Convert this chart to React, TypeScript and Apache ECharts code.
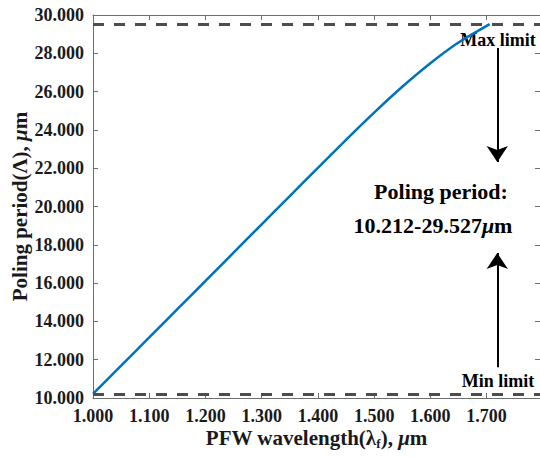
import React, { useEffect, useRef } from "react";
import * as echarts from "echarts";

// PFW wavelength (µm)
const wavelength = [1.0, 1.05, 1.1, 1.15, 1.2, 1.25, 1.3, 1.35, 1.4, 1.45, 1.5, 1.55, 1.6, 1.65, 1.7, 1.7055];
// Poling period (µm)
const period = [10.212, 11.69, 13.16, 14.64, 16.11, 17.59, 19.07, 20.54, 22.02, 23.48, 24.9, 26.25, 27.48, 28.56, 29.43, 29.527];

const minLimit = 10.212;
const maxLimit = 29.527;

const xMin = 1.0;
const xMax = 1.795;
const xInterval = 0.1;
const yMin = 10;
const yMax = 30;
const yInterval = 2;

// annotation arrows (data coordinates)
const arrowX = 1.719;
const downArrow = [28.28, 22.32];
const upArrow = [11.6, 17.57];

const FONT = "'Liberation Serif', 'Times New Roman', serif";

export default function App() {
  const ref = useRef<HTMLDivElement>(null);

  useEffect(() => {
    if (!ref.current) return;
    const chart = echarts.init(ref.current, null, { renderer: "svg" });
    const axisColor = "#6e6e6e";
    const labelStyle = {
      fontFamily: FONT,
      fontWeight: "bold" as const,
      fontSize: 18,
      color: "#1a1a1a",
    };
    const titleRich = {
      sub: { fontFamily: FONT, fontWeight: "bold", fontSize: 13, color: "#1a1a1a", lineHeight: 10, verticalAlign: "bottom" },
      it: { fontFamily: FONT, fontWeight: "bold", fontStyle: "italic", fontSize: 21, color: "#1a1a1a", lineHeight: 24 },
    };
    const data = wavelength.map((w, i) => [w, period[i]]);

    chart.setOption({
      animation: false,
      backgroundColor: "#fff",
      grid: { left: 93, top: 15, right: 0, bottom: 59, containLabel: false, outerBoundsMode: "none" },
      xAxis: [
        {
          type: "value",
          min: xMin,
          max: xMax,
          interval: xInterval,
          position: "bottom",
          axisLine: { show: true, lineStyle: { color: axisColor, width: 1 } },
          axisTick: { show: true, inside: true, length: 5, lineStyle: { color: axisColor } },
          splitLine: { show: false },
          axisLabel: {
            ...labelStyle,
            margin: 9,
            showMaxLabel: false,
            formatter: (v: number) => v.toFixed(3),
          },
          name: "PFW wavelength(λ{sub|f}), {it|μ}m",
          nameLocation: "middle",
          nameGap: 28,
          nameMoveOverlap: false,
          nameTextStyle: {
            fontFamily: FONT,
            fontWeight: "bold",
            fontSize: 21,
            color: "#1a1a1a",
            lineHeight: 24,
            rich: titleRich,
          },
        },
        {
          type: "value",
          min: xMin,
          max: xMax,
          interval: xInterval,
          position: "top",
          axisLine: { show: true, lineStyle: { color: axisColor, width: 1 } },
          axisTick: { show: true, inside: true, length: 5, lineStyle: { color: axisColor } },
          splitLine: { show: false },
          axisLabel: { show: false },
        },
      ],
      yAxis: [
        {
          type: "value",
          min: yMin,
          max: yMax,
          interval: yInterval,
          position: "left",
          axisLine: { show: true, lineStyle: { color: axisColor, width: 1 } },
          axisTick: { show: true, inside: true, length: 5, lineStyle: { color: axisColor } },
          splitLine: { show: false },
          axisLabel: {
            ...labelStyle,
            margin: 9,
            formatter: (v: number) => v.toFixed(3),
          },
          name: "Poling period(Λ), {it|μ}m",
          nameLocation: "middle",
          nameGap: 61,
          nameMoveOverlap: false,
          nameTextStyle: {
            fontFamily: FONT,
            fontWeight: "bold",
            fontSize: 21,
            color: "#1a1a1a",
            lineHeight: 24,
            rich: titleRich,
          },
        },
        {
          type: "value",
          min: yMin,
          max: yMax,
          interval: yInterval,
          position: "right",
          axisLine: { show: true, lineStyle: { color: axisColor, width: 1 } },
          axisTick: { show: true, inside: true, length: 5, lineStyle: { color: axisColor } },
          splitLine: { show: false },
          axisLabel: { show: false },
        },
      ],
      series: [
        {
          type: "line",
          data,
          smooth: 0.3,
          showSymbol: false,
          symbol: "none",
          lineStyle: { color: "#0072BD", width: 2.5 },
          z: 3,
          markLine: {
            silent: true,
            symbol: ["none", "none"],
            label: { show: false },
            lineStyle: { color: "#4d4d4d", width: 3, type: [11, 10] },
            data: [{ yAxis: maxLimit }, { yAxis: minLimit }],
          },
        },
        {
          type: "line",
          data: [],
          markLine: {
            silent: true,
            symbol: ["none", "arrow"],
            symbolSize: 16,
            label: { show: false },
            lineStyle: { color: "#000", width: 2, type: "solid" },
            data: [
              [
                { coord: [arrowX, downArrow[0]] },
                { coord: [arrowX, downArrow[1]] },
              ],
              [
                { coord: [arrowX, upArrow[0]] },
                { coord: [arrowX, upArrow[1]] },
              ],
            ],
          },
        },
      ],
      graphic: [
        {
          type: "text",
          x: 498,
          y: 40,
          style: {
            text: "Max limit",
            fontFamily: FONT,
            fontWeight: "bold",
            fontSize: 18,
            fill: "#000",
            align: "center",
            verticalAlign: "middle",
          },
        },
        {
          type: "text",
          x: 498,
          y: 381,
          style: {
            text: "Min limit",
            fontFamily: FONT,
            fontWeight: "bold",
            fontSize: 18,
            fill: "#000",
            align: "center",
            verticalAlign: "middle",
          },
        },
        {
          type: "text",
          x: 441,
          y: 191,
          style: {
            text: "Poling period:",
            fontFamily: FONT,
            fontWeight: "bold",
            fontSize: 22,
            fill: "#000",
            align: "center",
            verticalAlign: "middle",
          },
        },
        {
          type: "text",
          x: 433,
          y: 225,
          style: {
            text: "10.212-29.527{it|μ}m",
            fontFamily: FONT,
            fontWeight: "bold",
            fontSize: 22,
            fill: "#000",
            align: "center",
            verticalAlign: "middle",
            rich: {
              it: { fontFamily: FONT, fontWeight: "bold", fontStyle: "italic", fontSize: 22, fill: "#000" },
            },
          },
        },
      ],
    });
    return () => chart.dispose();
  }, []);

  return (
    <div
      ref={ref}
      style={{ position: "fixed", left: 0, top: 0, width: 540, height: 457, background: "#fff" }}
    />
  );
}
